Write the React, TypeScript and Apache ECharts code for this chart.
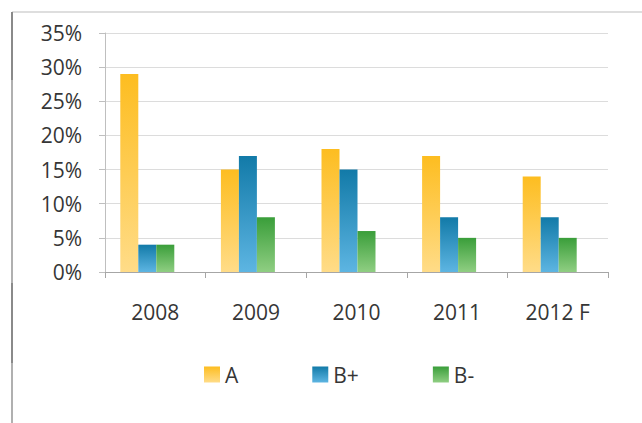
import React, { useEffect, useRef } from "react";
import * as echarts from "echarts";

const categories = ["2008", "2009", "2010", "2011", "2012 F"];
const seriesNames = ["A", "B+", "B-"];
const valuesA = [29, 15, 18, 17, 14];
const valuesBPlus = [4, 17, 15, 8, 8];
const valuesBMinus = [4, 8, 6, 5, 5];
const yMin = 0;
const yMax = 35;
const yInterval = 5;

const FONT = "Open Sans";

function grad(top: string, bottom: string) {
  return new echarts.graphic.LinearGradient(0, 0, 0, 1, [
    { offset: 0, color: top },
    { offset: 1, color: bottom },
  ]);
}

export default function App() {
  const ref = useRef<HTMLDivElement>(null);
  useEffect(() => {
    if (!ref.current) return;
    const chart = echarts.init(ref.current, null, { renderer: "svg" });
    const gridBox = { top: 33, width: 503, height: 239 };
    const labelColor = "#363636";
    chart.setOption({
      animation: false,
      backgroundColor: "#ffffff",
      grid: [
        { left: 105, ...gridBox },
        { left: 97, ...gridBox },
      ],
      xAxis: [
        {
          type: "category",
          gridIndex: 0,
          data: categories,
          axisLine: { lineStyle: { color: "#a6a6a6", width: 1 } },
          axisTick: { show: true, length: 6, lineStyle: { color: "#a6a6a6" } },
          axisLabel: { fontFamily: FONT, fontSize: 21, color: labelColor, margin: 29 },
          splitLine: { show: false },
        },
        {
          type: "category",
          gridIndex: 1,
          data: categories,
          show: false,
        },
      ],
      yAxis: [
        {
          type: "value",
          gridIndex: 0,
          min: yMin,
          max: yMax,
          interval: yInterval,
          axisLine: { show: true, lineStyle: { color: "#bfbfbf" } },
          axisTick: { show: true, length: 6, lineStyle: { color: "#bfbfbf" } },
          axisLabel: {
            formatter: "{value}%",
            fontFamily: FONT,
            fontSize: 21,
            color: labelColor,
            margin: 23,
          },
          splitLine: { show: true, lineStyle: { color: "#dcdcdc", width: 1 } },
        },
        {
          type: "value",
          gridIndex: 1,
          min: yMin,
          max: yMax,
          interval: yInterval,
          show: false,
          splitLine: { show: false },
        },
      ],
      legend: {
        data: seriesNames,
        left: 199,
        top: 359,
        icon: "rect",
        itemWidth: 16,
        itemHeight: 16,
        itemGap: 74,
        textStyle: { fontFamily: FONT, fontSize: 21, color: labelColor },
      },
      series: [
        {
          name: seriesNames[0],
          type: "bar",
          xAxisIndex: 1,
          yAxisIndex: 1,
          data: valuesA,
          barWidth: 18,
          barGap: "0%",
          itemStyle: { color: grad("#FDBD20", "#FFDC88") },
        },
        {
          name: seriesNames[1],
          type: "bar",
          xAxisIndex: 1,
          yAxisIndex: 1,
          data: valuesBPlus,
          barWidth: 18,
          barGap: "0%",
          itemStyle: { color: grad("#127AA8", "#5DB5E2") },
        },
        {
          name: seriesNames[2],
          type: "bar",
          xAxisIndex: 1,
          yAxisIndex: 1,
          data: valuesBMinus,
          barWidth: 18,
          barGap: "0%",
          itemStyle: { color: grad("#3A9E3A", "#8FCE82") },
        },
      ],
      graphic: [
        {
          type: "line",
          shape: { x1: 12, y1: 12, x2: 642, y2: 12 },
          style: { stroke: "#dedede", lineWidth: 2 },
        },
        {
          type: "line",
          shape: { x1: 12, y1: 12, x2: 12, y2: 423 },
          style: { stroke: "#b0b0b0", lineWidth: 2 },
        },
        {
          type: "line",
          shape: { x1: 12, y1: 12, x2: 12, y2: 80 },
          style: { stroke: "#8a8a8a", lineWidth: 2 },
        },
        {
          type: "line",
          shape: { x1: 12, y1: 283, x2: 12, y2: 363 },
          style: { stroke: "#8a8a8a", lineWidth: 2 },
        },
      ],
    });
    return () => chart.dispose();
  }, []);
  return (
    <div
      ref={ref}
      style={{ position: "absolute", left: 0, top: 0, width: 642, height: 423 }}
    />
  );
}
